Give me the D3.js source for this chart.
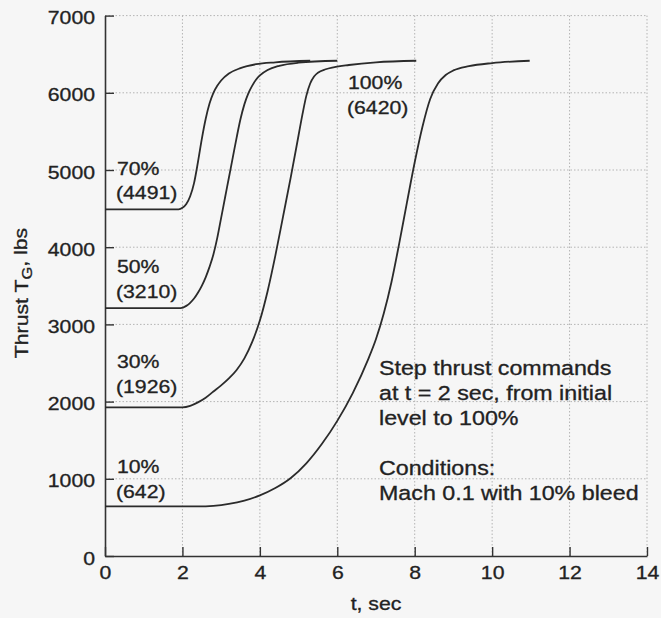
<!DOCTYPE html>
<html>
<head>
<meta charset="utf-8">
<script src="https://cdn.jsdelivr.net/npm/d3@7"></script>
<style>
  html, body { margin: 0; padding: 0; background: #f6f6f6; }
  svg { display: block; }
  text { font-family: "Liberation Sans", Arial, Helvetica, sans-serif; fill: #222; stroke: #222; stroke-width: 0.3px; }
</style>
</head>
<body>
<svg id="chart" width="661" height="618"></svg>
<script>
// ---- Data ----
const xTicks = [0, 2, 4, 6, 8, 10, 12, 14];
const yTicks = [0, 1000, 2000, 3000, 4000, 5000, 6000, 7000];

// 70% (4491) -> 100%
const t70 = [0, 1.9, 2.0, 2.1, 2.2, 2.3, 2.4, 2.5, 2.6, 2.7, 2.8, 2.9, 3.0, 3.2, 3.5, 3.9, 4.4, 5.3];
const T70 = [4491, 4491, 4510, 4560, 4660, 4830, 5100, 5400, 5660, 5860, 6000, 6090, 6160, 6250, 6320, 6370, 6395, 6415];

// 50% (3210) -> 100%
const t50 = [0, 1.95, 2.1, 2.2, 2.3, 2.4, 2.5, 2.6, 2.7, 2.8, 2.9, 3.0, 3.1, 3.2, 3.3, 3.4, 3.5, 3.6, 3.7, 3.8, 3.9, 4.0, 4.2, 4.5, 5.0, 6.0];
const T50 = [3210, 3210, 3240, 3280, 3335, 3410, 3500, 3610, 3745, 3905, 4120, 4380, 4640, 4900, 5160, 5420, 5660, 5850, 5990, 6090, 6170, 6225, 6295, 6350, 6390, 6415];

// 30% (1926) -> 100%
const t30 = [0, 2.0, 2.2, 2.4, 2.6, 2.8, 3.0, 3.2, 3.4, 3.6, 3.8, 4.0, 4.2, 4.4, 4.6, 4.8, 5.0, 5.1, 5.2, 5.3, 5.4, 5.5, 5.7, 5.9, 6.3, 7.0, 8.04];
const T30 = [1926, 1926, 1945, 1990, 2050, 2130, 2210, 2300, 2410, 2560, 2770, 3050, 3430, 3890, 4400, 4910, 5450, 5720, 5960, 6120, 6210, 6260, 6305, 6330, 6360, 6395, 6415];

// 10% (642) -> 100%
const t10 = [0, 2.4, 2.8, 3.2, 3.6, 4.0, 4.4, 4.8, 5.2, 5.6, 6.0, 6.4, 6.8, 7.0, 7.2, 7.4, 7.6, 7.8, 8.0, 8.2, 8.4, 8.6, 8.8, 9.0, 9.4, 10.0, 10.97];
const T10 = [642, 642, 650, 675, 718, 785, 880, 1010, 1200, 1450, 1750, 2110, 2550, 2810, 3140, 3550, 4050, 4580, 5100, 5560, 5920, 6120, 6230, 6290, 6345, 6385, 6415];

const curveLabels = [
  { pct: "70%", val: "(4491)" },
  { pct: "50%", val: "(3210)" },
  { pct: "30%", val: "(1926)" },
  { pct: "10%", val: "(642)" },
  { pct: "100%", val: "(6420)" }
];
const noteLines = ["Step thrust commands", "at t = 2 sec, from initial", "level to 100%", "", "Conditions:", "Mach 0.1 with 10% bleed"];

// ---- Layout ----
const SX = 1.18;           // horizontal stretch of the lettering in the scan
const svg = d3.select("#chart");
const x = d3.scaleLinear().domain([0, 14]).range([105, 647]);
const y = d3.scaleLinear().domain([0, 7000]).range([556, 15.6]);

svg.append("rect").attr("width", 661).attr("height", 618).attr("fill", "#f6f6f6");

// grid (dotted)
const grid = svg.append("g").attr("stroke", "#b4b4b4").attr("stroke-width", 1).attr("stroke-dasharray", "1.5,2");
grid.selectAll("line.h").data(yTicks.filter(d => d > 0)).join("line")
  .attr("x1", x(0)).attr("x2", x(14)).attr("y1", d => y(d)).attr("y2", d => y(d));
grid.selectAll("line.v").data(xTicks.filter(d => d > 0)).join("line")
  .attr("y1", y(0)).attr("y2", y(7000)).attr("x1", d => x(d)).attr("x2", d => x(d));

// axes
const yAxis = svg.append("g").attr("transform", `translate(${x(0)},0)`)
  .call(d3.axisLeft(y).tickValues(yTicks).tickFormat(d3.format("d")).tickSizeInner(-9).tickSizeOuter(0).tickPadding(8.5));
const xAxis = svg.append("g").attr("transform", `translate(0,${y(0)})`)
  .call(d3.axisBottom(x).tickValues(xTicks).tickFormat(d3.format("d")).tickSizeInner(-9).tickSizeOuter(0).tickPadding(10));
[yAxis, xAxis].forEach(a => {
  a.select(".domain").attr("stroke", "#333").attr("stroke-width", 1.6);
  a.selectAll(".tick line").attr("stroke", "#333").attr("stroke-width", 1.4);
  a.selectAll(".tick text").attr("font-size", 18).attr("fill", "#222")
    .attr("font-family", "Liberation Sans, Arial, sans-serif")
    .attr("transform", `scale(${SX},1)`);
});
yAxis.selectAll(".tick text").attr("dy", "0.45em");
xAxis.selectAll(".tick text").attr("dy", "0.71em");

// curves
const line = d3.line().x(d => x(d[0])).y(d => y(d[1])).curve(d3.curveMonotoneX);
const series = [[t70, T70], [t50, T50], [t30, T30], [t10, T10]];
svg.append("g").selectAll("path").data(series).join("path")
  .attr("d", s => line(s[0].map((t, i) => [t, s[1][i]])))
  .attr("fill", "none").attr("stroke", "#2b2b2b").attr("stroke-width", 1.8);

// text helper
function txt(xp, yp, s, size, anchor) {
  return svg.append("text")
    .attr("transform", `translate(${xp},${yp}) scale(${SX},1)`)
    .attr("font-size", size).attr("text-anchor", anchor || "start").text(s);
}

// curve labels
const labelPos = [[116, 175, 199], [116, 273, 298], [116, 368, 393], [116, 473, 498], [347, 89, 114]];
curveLabels.forEach((c, i) => {
  txt(labelPos[i][0] + 1, labelPos[i][1], c.pct, 18);
  txt(labelPos[i][0], labelPos[i][2], c.val, 18);
});

// annotation
const noteBase = [375, 400, 425, 450, 475, 500];
noteLines.forEach((s, i) => { if (s) txt(379, noteBase[i], s, 19.7); });

// axis titles
txt(376, 610, "t, sec", 18, "middle");
const yl = svg.append("text")
  .attr("transform", `translate(28,293) rotate(-90) scale(${SX},1)`)
  .attr("font-size", 18).attr("text-anchor", "middle");
yl.append("tspan").text("Thrust T");
yl.append("tspan").attr("font-size", 14).attr("dy", "0.3em").text("G");
yl.append("tspan").attr("dy", "-0.3em").text(", lbs");
</script>
</body>
</html>
